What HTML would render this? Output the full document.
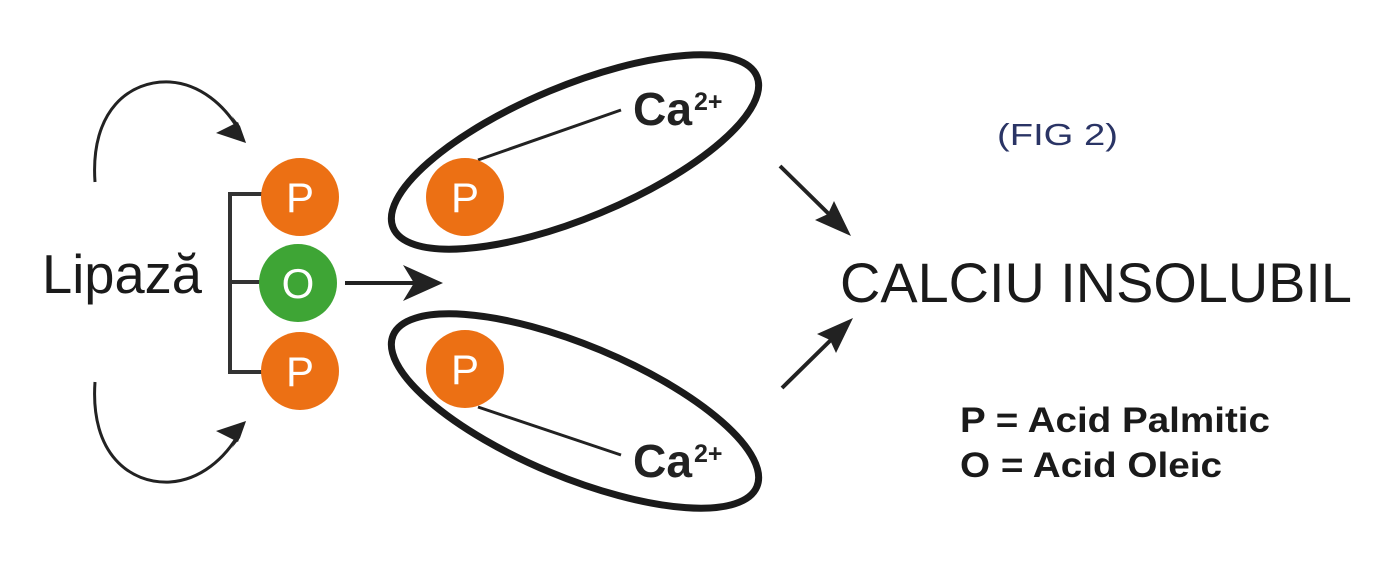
<!DOCTYPE html>
<html><head><meta charset="utf-8"><style>html,body{margin:0;padding:0;background:#fff}svg{display:block}</style></head>
<body>
<svg width="1400" height="570" viewBox="0 0 1400 570" xmlns="http://www.w3.org/2000/svg" font-family="Liberation Sans, Arial, sans-serif">
<!-- curved arrows -->
<path d="M95,182 C90,110 130,80 170,82 C200,84 225,105 240,132" fill="none" stroke="#222" stroke-width="3"/>
<polygon points="246,143 216,133 238,122" fill="#222"/>
<polygon points="246,143 232,116 240,126" fill="#222"/>
<path d="M95,382 C90,454 130,484 170,482 C200,480 225,459 240,432" fill="none" stroke="#222" stroke-width="3"/>
<polygon points="246,421 216,431 238,442" fill="#222"/>
<polygon points="246,421 232,448 240,438" fill="#222"/>
<!-- bracket -->
<path d="M262,194 H230 V372 H262 M230,282 H262" fill="none" stroke="#333" stroke-width="4"/>
<!-- circles -->
<circle cx="300" cy="197" r="39" fill="#ec7014"/>
<circle cx="298" cy="283" r="39" fill="#3ea535"/>
<circle cx="300" cy="371" r="39" fill="#ec7014"/>
<g fill="#fff" font-size="42" text-anchor="middle">
<text x="300" y="212">P</text>
<text x="298" y="298">O</text>
<text x="300" y="386">P</text>
</g>
<!-- middle arrow -->
<line x1="345" y1="283" x2="425" y2="283" stroke="#222" stroke-width="4"/>
<polygon points="443,283 403,265 414,283 403,301" fill="#222"/>
<!-- ellipses -->
<ellipse cx="575" cy="152" rx="197" ry="66" transform="rotate(-22.6 575 152)" fill="none" stroke="#1a1a1a" stroke-width="7"/>
<ellipse cx="575" cy="411" rx="197" ry="66" transform="rotate(22.6 575 411)" fill="none" stroke="#1a1a1a" stroke-width="7"/>
<line x1="478" y1="160" x2="621" y2="110" stroke="#222" stroke-width="3"/>
<line x1="478" y1="407" x2="621" y2="455" stroke="#222" stroke-width="3"/>
<circle cx="465" cy="197" r="39" fill="#ec7014"/>
<circle cx="465" cy="369" r="39" fill="#ec7014"/>
<g fill="#fff" font-size="42" text-anchor="middle">
<text x="465" y="212">P</text>
<text x="465" y="384">P</text>
</g>
<g fill="#222" font-weight="bold">
<text x="633" y="125" font-size="46" textLength="59" lengthAdjust="spacingAndGlyphs">Ca</text>
<text x="694" y="110" font-size="25">2+</text>
<text x="633" y="477" font-size="46" textLength="59" lengthAdjust="spacingAndGlyphs">Ca</text>
<text x="694" y="462" font-size="25">2+</text>
</g>
<!-- right arrows -->
<line x1="780" y1="166" x2="838" y2="223" stroke="#222" stroke-width="4"/>
<polygon points="851,236 815,220 828,214 834,201" fill="#222"/>
<line x1="782" y1="388" x2="840" y2="331" stroke="#222" stroke-width="4"/>
<polygon points="853,318 817,334 830,340 836,353" fill="#222"/>
<!-- texts -->
<text x="42" y="293" font-size="55" fill="#1a1a1a" textLength="160" lengthAdjust="spacingAndGlyphs">Lipază</text>
<text x="840" y="302" font-size="56" fill="#1a1a1a" textLength="512" lengthAdjust="spacingAndGlyphs">CALCIU INSOLUBIL</text>
<text x="997" y="145" font-size="31" fill="#2a3465" textLength="121" lengthAdjust="spacingAndGlyphs">(FIG 2)</text>
<g font-weight="bold" font-size="35" fill="#1a1a1a">
<text x="960" y="432" textLength="310" lengthAdjust="spacingAndGlyphs">P = Acid Palmitic</text>
<text x="960" y="477" textLength="262" lengthAdjust="spacingAndGlyphs">O = Acid Oleic</text>
</g>
</svg>
</body></html>
